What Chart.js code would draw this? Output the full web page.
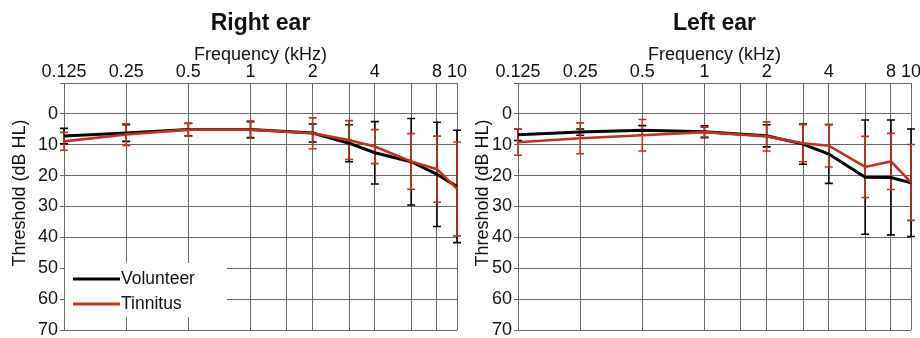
<!DOCTYPE html>
<html>
<head>
<meta charset="utf-8">
<script src="https://cdn.jsdelivr.net/npm/chart.js@4.4.1/dist/chart.umd.min.js"></script>
<style>
  html, body { margin: 0; padding: 0; background: #fff; }
  #wrap { position: relative; width: 920px; height: 338px; overflow: hidden; }
  canvas { position: absolute; top: 0; }
  #rightEar { left: 0; }
  #leftEar { left: 460px; }
</style>
</head>
<body>
<div id="wrap">
  <canvas id="rightEar" width="470" height="338"></canvas>
  <canvas id="leftEar" width="460" height="338"></canvas>
</div>
<script>
// frequencies (kHz) where thresholds were measured
const frequencies = [0.125, 0.25, 0.5, 1, 2, 3, 4, 6, 8, 10];
// vertical grid lines and which of them get a label
const gridFrequencies = [0.125, 0.25, 0.5, 1, 1.5, 2, 3, 4, 6, 8, 10];
const labelledFrequencies = [0.125, 0.25, 0.5, 1, 2, 4, 8, 10];
const thresholdTicks = [-10, 0, 10, 20, 30, 40, 50, 60, 70];

// Right ear: mean threshold (dB HL) and SD
const rightVolunteer = [7.2, 6.2, 5.1, 5.1, 6.2, 9.5, 12.6, 15.5, 19.6, 23.5];
const rightVolunteerSd = [2.5, 2.7, 2.0, 2.6, 2.9, 6.0, 10.1, 14.0, 16.9, 18.2];
const rightTinnitus = [8.9, 6.7, 5.1, 5.1, 6.3, 8.5, 10.6, 15.4, 17.9, 24.3];
const rightTinnitusSd = [2.9, 3.5, 2.1, 2.8, 5.0, 6.3, 5.5, 9.0, 10.7, 15.2];

// Left ear
const leftVolunteer = [6.8, 5.9, 5.3, 5.8, 7.1, 9.8, 13.0, 20.5, 20.6, 22.3];
const leftVolunteerSd = [1.8, 1.0, 1.5, 1.9, 3.6, 6.5, 9.5, 18.5, 18.6, 17.4];
const leftTinnitus = [9.2, 7.9, 6.9, 5.9, 7.3, 9.5, 10.3, 17.2, 15.4, 22.2];
const leftTinnitusSd = [4.2, 5.0, 5.1, 1.6, 4.7, 6.0, 6.9, 9.9, 9.1, 12.3];

const fontFamily = "'Liberation Sans', Arial, sans-serif";
const textColor = "#111";
const gridColor = "#666";
const black = "#000";
const red = "#c2301f";

const errorBars = {
  id: "errorBars",
  beforeDatasetsDraw(chart) {
    const { ctx, scales: { x, y } } = chart;
    chart.data.datasets.forEach(ds => {
      ctx.save();
      ctx.strokeStyle = ds.borderColor;
      ctx.lineWidth = 1.6;
      ds.data.forEach((p, i) => {
        const px = x.getPixelForValue(p.x);
        const top = y.getPixelForValue(p.y - ds.sd[i]);
        const bottom = y.getPixelForValue(p.y + ds.sd[i]);
        ctx.beginPath();
        ctx.moveTo(px, top);
        ctx.lineTo(px, bottom);
        ctx.moveTo(px - 4, top);
        ctx.lineTo(px + 4, top);
        ctx.moveTo(px - 4, bottom);
        ctx.lineTo(px + 4, bottom);
        ctx.stroke();
      });
      ctx.restore();
    });
  }
};

// rotated y title and the boxed legend
const extras = {
  id: "extras",
  afterDraw(chart, args, opts) {
    const { ctx, chartArea } = chart;
    ctx.save();
    ctx.fillStyle = textColor;
    ctx.font = "18px " + fontFamily;
    ctx.textAlign = "center";
    ctx.textBaseline = "middle";
    ctx.translate(opts.titleX, opts.titleY);
    ctx.rotate(-Math.PI / 2);
    ctx.fillText("Threshold (dB HL)", 0, 0);
    ctx.restore();

    if (!opts.legend) return;
    ctx.save();
    ctx.fillStyle = "#fff";
    ctx.fillRect(chartArea.left + 1, 263, 162, 54);
    ctx.font = "17.5px " + fontFamily;
    ctx.textAlign = "left";
    ctx.textBaseline = "middle";
    chart.data.datasets.forEach((ds, i) => {
      const ly = 279 + i * 25;
      ctx.strokeStyle = ds.borderColor;
      ctx.lineWidth = 3;
      ctx.beginPath();
      ctx.moveTo(73, ly);
      ctx.lineTo(120, ly);
      ctx.stroke();
      ctx.fillStyle = textColor;
      ctx.fillText(ds.label, 121, ly);
    });
    ctx.restore();
  }
};

function makeAudiogram(id, title, volunteer, volunteerSd, tinnitus, tinnitusSd, axisWidth, padRight, titleX, showLegend) {
  return new Chart(document.getElementById(id), {
    type: "line",
    data: {
      datasets: [
        {
          label: "Volunteer",
          data: frequencies.map((f, i) => ({ x: f, y: volunteer[i] })),
          sd: volunteerSd,
          borderColor: black,
          borderWidth: 3,
          pointRadius: 0,
          order: 1
        },
        {
          label: "Tinnitus",
          data: frequencies.map((f, i) => ({ x: f, y: tinnitus[i] })),
          sd: tinnitusSd,
          borderColor: red,
          borderWidth: 2.6,
          pointRadius: 0,
          order: 0
        }
      ]
    },
    options: {
      responsive: false,
      animation: false,
      layout: { padding: { left: 0, right: padRight, top: 0, bottom: 8 } },
      plugins: {
        legend: { display: false },
        tooltip: { enabled: false },
        title: {
          display: true,
          text: title,
          fullSize: false,
          color: textColor,
          font: { family: fontFamily, size: 23, weight: "bold", lineHeight: 1.2 },
          padding: { top: 10, bottom: 0 }
        },
        extras: { titleX: titleX, titleY: 193, legend: showLegend }
      },
      scales: {
        x: {
          type: "logarithmic",
          position: "top",
          min: 0.125,
          max: 10,
          afterBuildTicks: s => { s.ticks = gridFrequencies.map(v => ({ value: v })); },
          afterFit: s => { s.height = 45.4; s.paddingLeft = 0; s.paddingRight = 0; },
          ticks: {
            autoSkip: false,
            maxRotation: 0,
            padding: 0,
            color: textColor,
            font: { family: fontFamily, size: 18, lineHeight: 1.2 },
            callback: v => labelledFrequencies.includes(v) ? String(v) : ""
          },
          grid: { color: gridColor, drawTicks: false },
          border: { color: gridColor },
          title: {
            display: true,
            text: "Frequency (kHz)",
            color: textColor,
            font: { family: fontFamily, size: 18, lineHeight: 1.2 },
            padding: { top: 6.6, bottom: 0 }
          }
        },
        y: {
          min: -10,
          max: 70,
          reverse: true,
          afterBuildTicks: s => { s.ticks = thresholdTicks.map(v => ({ value: v })); },
          afterFit: s => { s.width = axisWidth; s.paddingTop = 0; s.paddingBottom = 0; },
          ticks: {
            padding: 2,
            color: textColor,
            font: { family: fontFamily, size: 18 },
            callback: v => v < 0 ? "" : v
          },
          grid: { color: gridColor, tickLength: 4 },
          border: { color: gridColor }
        }
      }
    },
    plugins: [errorBars, extras]
  });
}

makeAudiogram("rightEar", "Right ear", rightVolunteer, rightVolunteerSd, rightTinnitus, rightTinnitusSd, 64, 13, 20, true);
makeAudiogram("leftEar", "Left ear", leftVolunteer, leftVolunteerSd, leftTinnitus, leftTinnitusSd, 58, 9, 23, false);
</script>
</body>
</html>
